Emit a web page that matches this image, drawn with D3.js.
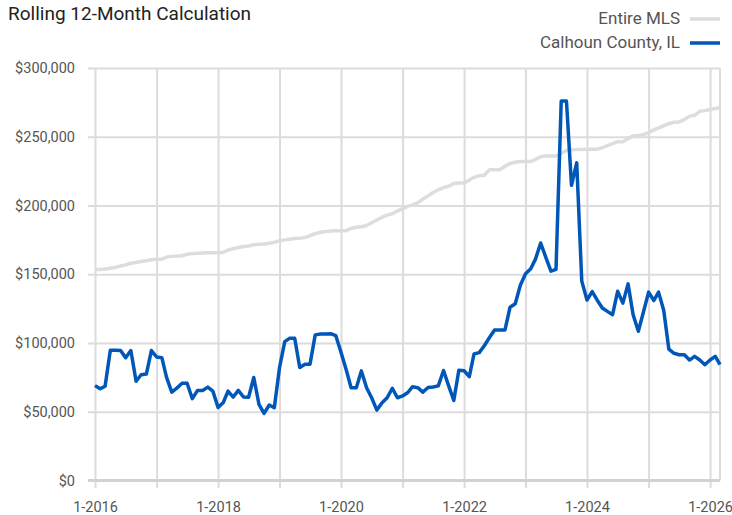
<!DOCTYPE html>
<html>
<head>
<meta charset="utf-8">
<script src="https://cdn.jsdelivr.net/npm/d3@7"></script>
<style>
  html, body { margin: 0; padding: 0; background: #fff; }
  svg { display: block; font-family: Roboto, "Liberation Sans", Arial, sans-serif; }
</style>
</head>
<body>
<svg id="chart" width="732" height="515"></svg>
<script>
// ---- Data (monthly, Jan 2016 – Mar 2026) ----
const startYear = 2016, startMonth = 0, monthCount = 123;
const seriesNames = ["Entire MLS", "Calhoun County, IL"];

const entireMLS = [
  153.5,153.5,153.8,154.3,155,156,156.8,158,158.5,159.3,159.8,160.5,
  161,161,162.5,163,163.2,163.5,164.5,165,165.3,165.5,165.7,165.7,
  165.7,166,167.5,168.5,169.5,170.2,170.5,171.5,171.8,172,172.5,173.2,
  174.4,175,175.4,176,176.1,176.7,178,179.5,180.5,181,181.5,181.7,
  181.7,181.7,183.5,184.2,184.5,185.5,187.5,189.5,191.5,193,194,196,
  197.5,199.5,200.5,202,204.5,207,209.5,211.5,213,214,216,216.3,
  216.3,218.5,220.5,221.6,222,226,226,226,228.5,230.5,231.5,232,
  232,232,233.5,235.5,236,236,236,238,240,240.5,240.7,240.8,
  241,241,241,242,243.5,245,246.4,246.4,248.5,250.7,251,251.5,
  253,255,256.5,258,259.5,260.5,260.8,262.5,265,265.5,268.5,269,
  269.8,270.5,271.2
].map(v => v * 1000);

const calhoun = [
  69,66.7,68.6,94.8,94.8,94.5,89.3,94.5,72.2,76.9,77.4,94.5,
  89.8,89.3,75,64.3,67.2,70.7,70.7,59.5,65.5,65.5,67.9,65,
  53.1,56.7,65,60.7,65.5,60.7,60.5,74.9,55.3,48.8,54.9,52.9,
  82.2,101,103.4,103.4,82.2,84.6,84.6,105.9,106.6,106.6,106.8,105.4,
  93.2,80.5,67.5,67.5,79.7,67.5,60.2,51.2,56.6,60.2,67.1,60.2,
  61.5,64,68.2,67.5,64.3,67.6,68,68.8,80,69,58.2,80.2,
  79.8,75.5,92,93,98,104,109.5,109.5,109.5,126,128.5,142,
  150.3,154,161,172.7,162.5,152.2,153.5,276,276,214.7,231,145,
  131.3,137.4,131.3,125.5,123,120.6,137.6,129,143,120.6,108.5,122.4,
  137,130.9,137,123.6,95.6,92.5,91.5,91.5,87.6,90.3,87.6,84.2,
  87.6,90.3,84.2
].map(v => v * 1000);

const yTicks = [0, 50000, 100000, 150000, 200000, 250000, 300000];
const xGridYears = [2016,2017,2018,2019,2020,2021,2022,2023,2024,2025,2026];
const xLabelYears = [2016,2018,2020,2022,2024,2026];
const title = "Rolling 12-Month Calculation";

// ---- Build ----
const dates = d3.range(monthCount).map(i => new Date(startYear, startMonth + i, 1));
const svg = d3.select("#chart");

const L = 95, R = 720, T = 68, B = 480.5;
const x = d3.scaleTime().domain([dates[0], dates[dates.length - 1]]).range([L, R]);
const y = d3.scaleLinear().domain([0, 300000]).range([B, T]);

const gridColor = "#dcdcdc";
const textColor = "#555";

// Horizontal grid + y labels
const yAxis = d3.axisLeft(y)
  .tickValues(yTicks)
  .tickSize(R - 88)
  .tickPadding(13)
  .tickFormat(d => "$" + d3.format(",")(d));
const gy = svg.append("g").attr("transform", `translate(${R},0)`).call(yAxis);
gy.select(".domain").remove();
gy.selectAll(".tick line").attr("stroke", gridColor).attr("stroke-width", 2);
gy.selectAll(".tick text").attr("fill", textColor).style("font-size", "14.5px")
  .style("font-family", "Roboto, sans-serif");

// Vertical grid + x labels
const xAxis = d3.axisBottom(x)
  .tickValues(xGridYears.map(yr => new Date(yr, 0, 1)))
  .tickSize(488 - T)
  .tickPadding(14)
  .tickFormat(d => xLabelYears.includes(d.getFullYear()) ? "1-" + d.getFullYear() : "");
const gx = svg.append("g").attr("transform", `translate(0,${T})`).call(xAxis);
gx.select(".domain").remove();
gx.selectAll(".tick line").attr("stroke", gridColor).attr("stroke-width", 2);
gx.selectAll(".tick text").attr("fill", textColor).style("font-size", "14.5px")
  .style("font-family", "Roboto, sans-serif");

// right border line
svg.append("line")
  .attr("x1", R).attr("x2", R).attr("y1", T).attr("y2", B)
  .attr("stroke", gridColor).attr("stroke-width", 2);

// baseline
svg.append("line")
  .attr("x1", 88).attr("x2", R).attr("y1", y(0)).attr("y2", y(0))
  .attr("stroke", "#d2d2d2").attr("stroke-width", 3);

// Lines
const line = d3.line().x((d, i) => x(dates[i])).y(d => y(d)).curve(d3.curveLinear);

svg.append("path")
  .datum(entireMLS)
  .attr("fill", "none")
  .attr("stroke", "#dddddd")
  .attr("stroke-width", 3.5)
  .attr("stroke-linejoin", "round")
  .attr("d", line);

svg.append("path")
  .datum(calhoun)
  .attr("fill", "none")
  .attr("stroke", "#0057b8")
  .attr("stroke-width", 3.5)
  .attr("stroke-linejoin", "round")
  .attr("d", line);

// Title
svg.append("text")
  .attr("x", 8).attr("y", 20)
  .attr("fill", "#222")
  .style("font-size", "19px")
  .text(title);

// Legend
const legend = [
  { name: seriesNames[0], color: "#dddddd", ty: 24, ly: 19 },
  { name: seriesNames[1], color: "#0057b8", ty: 48, ly: 43 }
];
const lg = svg.append("g");
legend.forEach(d => {
  lg.append("text")
    .attr("x", 680).attr("y", d.ty)
    .attr("text-anchor", "end")
    .attr("fill", textColor)
    .style("font-size", "17px")
    .text(d.name);
  lg.append("line")
    .attr("x1", 690).attr("x2", 720)
    .attr("y1", d.ly).attr("y2", d.ly)
    .attr("stroke", d.color)
    .attr("stroke-width", 3.5);
});
</script>
</body>
</html>
